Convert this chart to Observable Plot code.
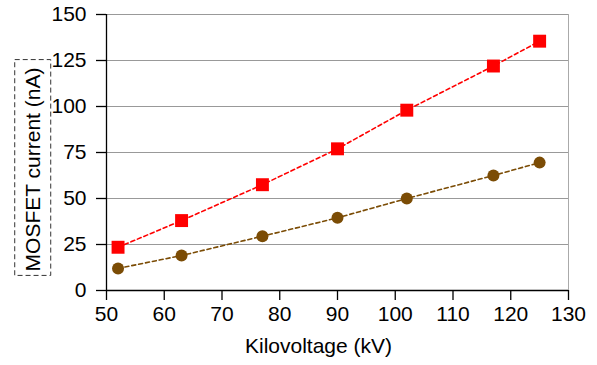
<!DOCTYPE html>
<html><head><meta charset="utf-8">
<script src="https://cdn.jsdelivr.net/npm/d3@7"></script>
<script src="https://cdn.jsdelivr.net/npm/@observablehq/plot@0.6"></script>
<style>body{margin:0;background:#fff}</style>
</head><body><div id="chart"></div>
<script>
const kv = [52, 63, 77, 90, 102, 117, 125];
const redSeries = [23.5, 38, 57.5, 77, 98, 122, 135.5];
const brownSeries = [12, 19, 29.5, 39.5, 50, 62.5, 69.5];
const xTicks = [50, 60, 70, 80, 90, 100, 110, 120, 130];
const yTicks = [0, 25, 50, 75, 100, 125, 150];
const xTitle = "Kilovoltage (kV)";
const yTitle = "MOSFET current (nA)";
const redColor = "#ff0000";
const brownColor = "#7b4c05";

const red = kv.map((x, i) => ({x, y: redSeries[i]}));
const brown = kv.map((x, i) => ({x, y: brownSeries[i]}));

const chart = Plot.plot({
  width: 597, height: 365,
  marginLeft: 106, marginRight: 29, marginTop: 14, marginBottom: 75,
  style: {fontFamily: "'Liberation Sans', Arial, sans-serif", fontSize: "21px", background: "#fff", color: "#000"},
  x: {domain: [50, 130]},
  y: {domain: [0, 150]},
  marks: [
    Plot.ruleY(yTicks.filter(d => d > 0), {stroke: "#999", strokeWidth: 1}),
    Plot.ruleX([130], {stroke: "#aaa", strokeWidth: 1}),
    Plot.ruleY([0], {stroke: "#000", strokeWidth: 1.3}),
    Plot.ruleX([50], {stroke: "#000", strokeWidth: 1.3}),
    Plot.axisX({ticks: xTicks, tickSize: 10, tickPadding: 6, label: null, strokeWidth: 1.3}),
    Plot.axisY({ticks: yTicks, tickSize: 10, tickPadding: 10, label: null, strokeWidth: 1.3}),
    Plot.line(brown, {x: "x", y: "y", stroke: brownColor, strokeWidth: 1.6, strokeDasharray: "4,3"}),
    Plot.line(red, {x: "x", y: "y", stroke: redColor, strokeWidth: 1.6, strokeDasharray: "4,3"}),
    Plot.dot(brown, {x: "x", y: "y", r: 6, fill: brownColor, stroke: "none", symbol: "circle"}),
    Plot.dot(red, {x: "x", y: "y", r: 7.3, fill: redColor, stroke: "none", symbol: "square"}),
    Plot.text([xTitle], {frameAnchor: "bottom", dy: 62, dx: -19, fill: "#000"}),
    Plot.text([yTitle], {frameAnchor: "left", textAnchor: "middle", rotate: -90, dx: -73, dy: 17, fill: "#000"})
  ]
});
document.getElementById("chart").appendChild(chart);

// dashed box around the y-axis title
const svg = d3.select(chart);
const sr = chart.getBoundingClientRect();
svg.selectAll("text").filter(function() { return this.textContent === yTitle; }).each(function() {
  const b = this.getBoundingClientRect();
  const cx = (b.left + b.right) / 2 - sr.left;
  svg.append("rect")
    .attr("x", cx - 18).attr("width", 36)
    .attr("y", b.top - sr.top - 8).attr("height", b.height + 12)
    .attr("fill", "none").attr("stroke", "#333").attr("stroke-width", 1)
    .attr("stroke-dasharray", "5,3");
});
</script>
</body></html>
